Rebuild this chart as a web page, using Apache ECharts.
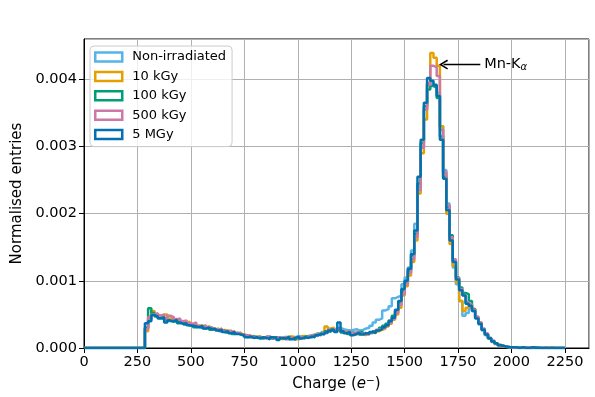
<!DOCTYPE html>
<html><head><meta charset="utf-8">
<script src="https://cdn.jsdelivr.net/npm/echarts@6/dist/echarts.min.js"></script>
<style>html,body{margin:0;padding:0;background:#fff}#c{width:595px;height:397px}</style>
</head><body><div id="c"></div>
<script>
// Histogram binning (charge in e-); values below are in units of 1e-5 (normalised entries)
const histMin = 0;
const binStart = 285;
const binWidth = 15;
const xTicks = [0, 250, 500, 750, 1000, 1250, 1500, 1750, 2000, 2250];
const yTicks = [0.000, 0.001, 0.002, 0.003, 0.004];
const seriesNames = ['Non-irradiated', '10 kGy', '100 kGy', '500 kGy', '5 MGy'];
const seriesColors = ['#56B4E9', '#E69F00', '#009E73', '#CC79A7', '#0072B2'];

const nonIrradiated = [
  30, 42, 52, 48, 45, 43, 42, 40, 41, 39,
  40, 37, 35, 36, 33, 34, 31, 30, 31, 29,
  28, 27, 28, 25, 26, 24, 23, 22, 23, 21,
  20, 18, 17, 18, 16, 17, 15, 16, 17, 15,
  16, 15, 14, 16, 17, 15, 16, 18, 17, 16,
  18, 19, 20, 22, 21, 24, 26, 25, 27, 29,
  30, 28, 27, 26, 27, 28, 26, 27, 29, 30,
  33, 38, 42, 44, 56, 58, 62, 74, 76, 78,
  95, 105, 120, 145, 185, 240, 300, 355, 392, 395,
  390, 380, 330, 265, 215, 165, 120, 95, 70, 48,
  52, 60, 55, 46, 35, 26, 19, 14, 9, 6,
  4, 2, 2, 1, 1, 0, 1, 0, 0, 0,
  0, 0, 1, 0, 0, 0, 0, 0, 0, 0,
  0];
const kGy10 = [
  25, 44, 55, 50, 48, 46, 50, 44, 45, 42,
  41, 40, 38, 39, 35, 36, 33, 34, 31, 32,
  30, 28, 29, 26, 27, 25, 26, 23, 22, 23,
  20, 19, 18, 17, 16, 18, 15, 17, 16, 14,
  16, 15, 13, 15, 14, 17, 16, 13, 15, 18,
  16, 18, 17, 20, 22, 24, 32, 29, 30, 26,
  27, 24, 25, 22, 23, 20, 22, 21, 19, 22,
  23, 24, 25, 27, 29, 32, 36, 42, 50, 60,
  78, 92, 108, 128, 160, 230, 290, 340, 395, 439,
  432, 420, 330, 260, 200, 155, 122, 98, 70, 55,
  60, 64, 58, 46, 38, 28, 21, 14, 10, 6,
  5, 3, 2, 1, 0, 1, 0, 0, 1, 0,
  0, 0, 0, 0, 0, 0, 1, 0, 0, 0,
  0];
const kGy100 = [
  30, 59, 52, 47, 45, 43, 42, 40, 39, 41,
  37, 38, 35, 34, 35, 31, 32, 30, 29, 31,
  27, 28, 26, 25, 26, 23, 24, 21, 22, 20,
  18, 19, 16, 17, 15, 16, 14, 16, 15, 14,
  16, 14, 15, 13, 16, 14, 12, 15, 16, 14,
  17, 16, 18, 20, 19, 22, 25, 24, 28, 26,
  29, 23, 24, 21, 23, 22, 20, 24, 21, 23,
  22, 25, 27, 30, 33, 36, 41, 48, 55, 68,
  85, 98, 115, 138, 170, 245, 305, 360, 385, 390,
  388, 372, 315, 255, 210, 168, 130, 105, 90, 82,
  80, 70, 58, 45, 37, 28, 21, 14, 10, 7,
  4, 3, 1, 1, 1, 0, 0, 1, 0, 0,
  0, 1, 0, 0, 0, 0, 0, 0, 0, 0,
  0];
const kGy500 = [
  28, 46, 50, 52, 48, 50, 44, 48, 46, 43,
  44, 40, 41, 37, 36, 38, 33, 32, 34, 30,
  31, 28, 27, 29, 25, 26, 24, 25, 22, 21,
  20, 18, 19, 16, 17, 15, 16, 14, 17, 15,
  14, 16, 15, 17, 13, 15, 16, 14, 16, 15,
  17, 16, 19, 18, 21, 23, 22, 27, 25, 28,
  30, 26, 23, 25, 22, 20, 24, 21, 23, 20,
  23, 24, 27, 29, 30, 33, 38, 43, 52, 64,
  80, 95, 112, 132, 165, 235, 298, 355, 392, 420,
  418, 405, 325, 262, 212, 165, 132, 104, 88, 79,
  68, 65, 57, 47, 38, 29, 22, 15, 11, 7,
  4, 2, 2, 1, 0, 1, 0, 0, 0, 1,
  0, 0, 0, 0, 1, 0, 0, 0, 0, 0,
  0];
const MGy5 = [
  37, 40, 49, 47, 44, 46, 38, 41, 40, 42,
  38, 36, 37, 34, 33, 32, 31, 33, 29, 30,
  28, 29, 26, 27, 24, 25, 22, 24, 21, 20,
  19, 16, 17, 15, 16, 14, 16, 15, 13, 16,
  15, 12, 15, 14, 16, 13, 15, 17, 14, 16,
  15, 17, 16, 19, 21, 20, 23, 26, 27, 24,
  38, 25, 22, 24, 19, 21, 23, 20, 22, 21,
  24, 22, 26, 28, 31, 34, 40, 45, 57, 70,
  88, 100, 118, 140, 175, 255, 310, 365, 402, 398,
  392, 375, 310, 252, 205, 160, 128, 102, 86, 78,
  66, 63, 55, 44, 36, 27, 20, 15, 10, 7,
  4, 3, 2, 1, 1, 1, 0, 1, 0, 0,
  1, 0, 0, 0, 0, 0, 0, 0, 0, 0,
  0];
const allValues = [nonIrradiated, kGy10, kGy100, kGy500, MGy5];

// annotation
const annotText = 'Mn-K';
const annotSub = 'α';
const arrowFrom = [1854, 0.00422];
const arrowTo = [1682, 0.00422];
const textAt = [1872, 0.00422];

function toSteps(vals) {
  const pts = [[histMin, 0]];
  vals.forEach((v, i) => pts.push([binStart + i * binWidth, v * 1e-5]));
  pts.push([binStart + vals.length * binWidth, vals[vals.length - 1] * 1e-5]);
  return pts;
}

const FONT = 'DejaVu Sans';
const chevron = 'path://M5,0 L10,9 L8.6,10 L5,3.2 L1.4,10 L0,9 Z';

const series = allValues.map((vals, k) => ({
  name: seriesNames[k],
  type: 'line',
  step: 'end',
  data: toSteps(vals),
  symbol: 'none',
  lineStyle: { color: seriesColors[k], width: 2.5 },
  itemStyle: { color: seriesColors[k] },
  z: 2 + k,
  animation: false
}));

series.push({
  name: 'annotation',
  type: 'line',
  data: [],
  symbol: 'none',
  animation: false,
  z: 20,
  markLine: {
    silent: true,
    animation: false,
    symbol: ['none', chevron],
    symbolSize: [10, 9],
    lineStyle: { color: '#000', width: 1.4, type: 'solid' },
    label: { show: false },
    data: [[{ coord: arrowFrom }, { coord: arrowTo }]]
  },
  markPoint: {
    silent: true,
    animation: false,
    symbol: 'circle',
    symbolSize: 0,
    data: [{
      coord: textAt,
      label: {
        show: true,
        position: 'right',
        distance: 0,
        formatter: annotText + '{s|' + annotSub + '}',
        fontFamily: FONT,
        fontSize: 14.5,
        color: '#000',
        rich: { s: { fontFamily: FONT, fontSize: 10, fontStyle: 'italic', color: '#000', verticalAlign: 'bottom', padding: [6, 0, 0, 0] } }
      }
    }]
  }
});

const chart = echarts.init(document.getElementById('c'), null, { renderer: 'canvas' });
chart.setOption({
  animation: false,
  backgroundColor: '#fff',
  textStyle: { fontFamily: FONT },
  grid: {
    left: 84, right: 6, top: 39, bottom: 47,
    show: true, borderColor: '#000', borderWidth: 1, backgroundColor: 'transparent'
  },
  legend: {
    data: seriesNames.map((n, k) => ({
      name: n,
      icon: 'rect',
      itemStyle: { color: '#fff', borderColor: seriesColors[k], borderWidth: 2.5 }
    })),
    orient: 'vertical',
    left: 90, top: 46,
    itemWidth: 27, itemHeight: 9,
    itemGap: 5.4,
    padding: [4, 6, 5, 4],
    backgroundColor: 'rgba(255,255,255,0.8)',
    borderColor: '#cccccc', borderWidth: 1, borderRadius: 4,
    textStyle: { fontFamily: FONT, fontSize: 13, color: '#000', lineHeight: 14, padding: [0, 0, 0, 5] },
    selectedMode: false
  },
  xAxis: {
    type: 'value',
    min: 0, max: 2362.5, interval: 250,
    axisLine: { show: true, lineStyle: { color: '#000', width: 1 } },
    axisTick: { show: true, inside: false, length: 5, lineStyle: { color: '#000', width: 1 } },
    axisLabel: {
      fontFamily: FONT, fontSize: 14.5, color: '#000', margin: 7,
      showMaxLabel: false,
      formatter: v => (xTicks.indexOf(v) >= 0 ? String(v) : '')
    },
    splitLine: { show: true, lineStyle: { color: '#b0b0b0', width: 1 } },
    name: 'Charge ({i|e}{sup|−})',
    nameLocation: 'middle',
    nameGap: 28,
    nameTextStyle: {
      fontFamily: FONT, fontSize: 15, color: '#000', verticalAlign: 'top',
      rich: {
        i: { fontFamily: FONT, fontSize: 15, fontStyle: 'italic', color: '#000' },
        sup: { fontFamily: FONT, fontSize: 10.5, color: '#000', verticalAlign: 'top', padding: [0, 0, 6, 0] }
      }
    }
  },
  yAxis: {
    type: 'value',
    min: 0, max: 0.0046, interval: 0.001,
    axisLine: { show: true, lineStyle: { color: '#000', width: 1 } },
    axisTick: { show: true, inside: false, length: 5, lineStyle: { color: '#000', width: 1 } },
    axisLabel: {
      fontFamily: FONT, fontSize: 14.5, color: '#000', margin: 7,
      showMaxLabel: false,
      formatter: v => (yTicks.some(t => Math.abs(t - v) < 1e-9) ? v.toFixed(3) : '')
    },
    splitLine: { show: true, lineStyle: { color: '#b0b0b0', width: 1 } },
    name: 'Normalised entries',
    nameLocation: 'middle',
    nameGap: 56,
    nameTextStyle: { fontFamily: FONT, fontSize: 15, color: '#000' }
  },
  series: series
});
</script></body></html>
